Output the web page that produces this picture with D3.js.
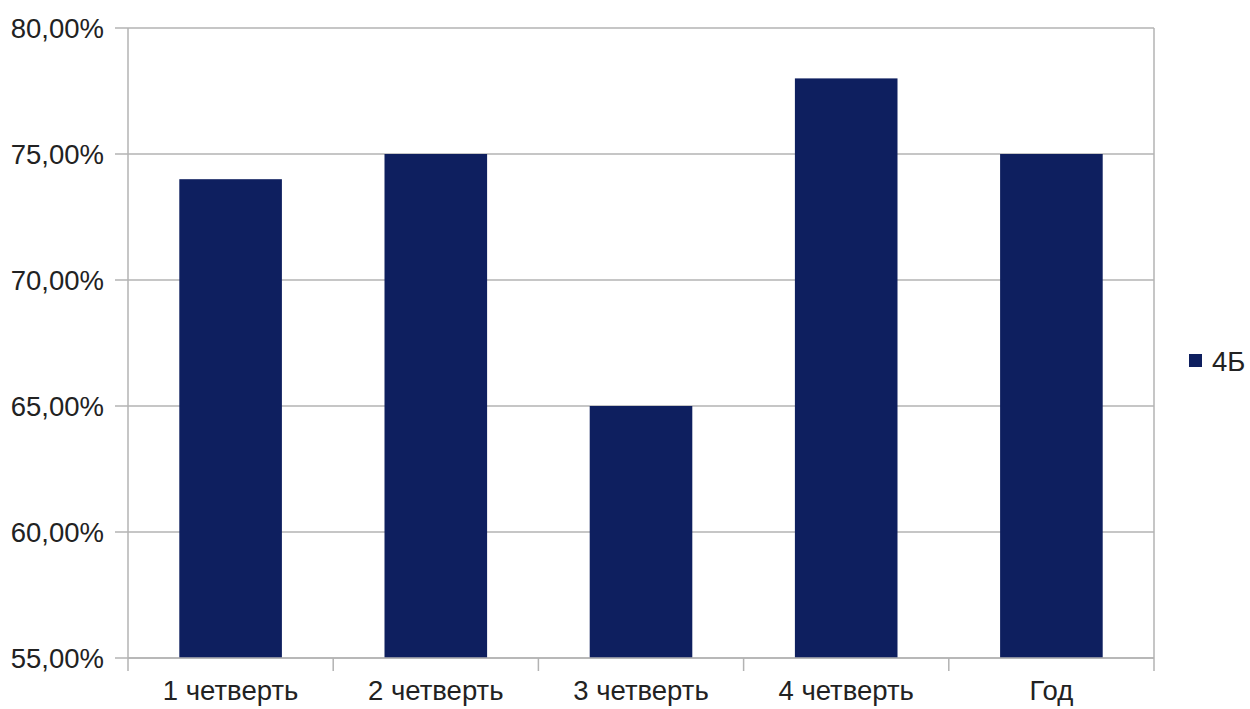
<!DOCTYPE html>
<html><head><meta charset="utf-8">
<script src="https://cdn.jsdelivr.net/npm/d3@7"></script>
<style>body{margin:0;background:#fff}svg{display:block}</style>
</head><body>
<script>
const categories = ["1 четверть", "2 четверть", "3 четверть", "4 четверть", "Год"];
const values = [74, 75, 65, 78, 75];
const seriesName = "4Б";
const yTicks = [55, 60, 65, 70, 75, 80];

const W = 1250, H = 709;
const m = {left: 128, right: 1154, top: 28, bottom: 658};
const svg = d3.select("body").append("svg").attr("width", W).attr("height", H);
const font = "'Liberation Sans', Arial, sans-serif";
const fs = 27.5;
const textColor = "#222";
const grid = "#b3b3b3";
const barColor = "#0e1f5f";

const x = d3.scaleBand().domain(categories).range([m.left, m.right]).paddingInner(0.5).paddingOuter(0.25);
const y = d3.scaleLinear().domain([55, 80]).range([m.bottom, m.top]);

// gridlines
svg.append("g").selectAll("line").data(yTicks).join("line")
  .attr("x1", m.left - 13).attr("x2", m.right)
  .attr("y1", d => y(d)).attr("y2", d => y(d))
  .attr("stroke", grid).attr("stroke-width", 1.5);

// bars
svg.append("g").selectAll("rect").data(values).join("rect")
  .attr("x", (d, i) => x(categories[i]))
  .attr("width", x.bandwidth())
  .attr("y", d => y(d))
  .attr("height", d => y(55) - y(d))
  .attr("fill", barColor);

// axis lines
svg.append("line").attr("x1", m.left).attr("x2", m.left).attr("y1", m.top).attr("y2", m.bottom + 13)
  .attr("stroke", grid).attr("stroke-width", 1.5);
svg.append("line").attr("x1", m.right).attr("x2", m.right).attr("y1", m.top).attr("y2", m.bottom + 13)
  .attr("stroke", grid).attr("stroke-width", 1.5);
svg.append("line").attr("x1", m.left).attr("x2", m.right).attr("y1", m.bottom).attr("y2", m.bottom)
  .attr("stroke", grid).attr("stroke-width", 1.5);

// category boundary ticks
const bounds = d3.range(1, categories.length).map(i => m.left + i * (m.right - m.left) / categories.length);
svg.append("g").selectAll("line").data(bounds).join("line")
  .attr("x1", d => d).attr("x2", d => d).attr("y1", m.bottom).attr("y2", m.bottom + 13)
  .attr("stroke", grid).attr("stroke-width", 1.5);

// y labels
const fmt = d => d.toFixed(2).replace(".", ",") + "%";
svg.append("g").selectAll("text").data(yTicks).join("text")
  .attr("x", m.left - 24).attr("y", d => y(d)).attr("dy", "0.36em")
  .attr("text-anchor", "end").attr("font-family", font).attr("font-size", fs)
  .attr("fill", textColor).text(fmt);

// x labels
svg.append("g").selectAll("text").data(categories).join("text")
  .attr("x", d => x(d) + x.bandwidth() / 2).attr("y", 700)
  .attr("text-anchor", "middle").attr("font-family", font).attr("font-size", fs)
  .attr("fill", textColor).text(d => d);

// legend
svg.append("rect").attr("x", 1189).attr("y", 354).attr("width", 13).attr("height", 13).attr("fill", barColor);
svg.append("text").attr("x", 1212).attr("y", 361).attr("dy", "0.36em")
  .attr("font-family", font).attr("font-size", fs).attr("fill", textColor).text(seriesName);
</script>
</body></html>
